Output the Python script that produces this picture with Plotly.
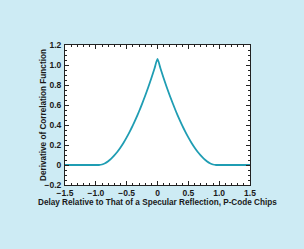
import plotly.graph_objects as go

# Data (delay in P-code chips vs. derivative of correlation)
delay = [-1.5, -1.4, -1.3, -1.2, -1.1, -1.0, -0.95, -0.9, -0.85, -0.8, -0.75, -0.7,
         -0.65, -0.6, -0.55, -0.5, -0.45, -0.4, -0.35, -0.3, -0.25, -0.2, -0.15,
         -0.1, -0.05, 0.0, 0.05, 0.1, 0.15, 0.2, 0.25, 0.3, 0.35, 0.4, 0.45, 0.5,
         0.55, 0.6, 0.65, 0.7, 0.75, 0.8, 0.85, 0.9, 0.95, 1.0, 1.1, 1.2, 1.3, 1.4, 1.5]
deriv = [0, 0, 0, 0, 0, 0, 0, 0.005, 0.018, 0.038, 0.064, 0.096,
         0.133, 0.176, 0.223, 0.276, 0.334, 0.396, 0.464, 0.535, 0.612, 0.693, 0.778,
         0.868, 0.962, 1.06, 0.962, 0.868, 0.778, 0.693, 0.612, 0.535, 0.464, 0.396, 0.334, 0.276,
         0.223, 0.176, 0.133, 0.096, 0.064, 0.038, 0.018, 0.005, 0, 0, 0, 0, 0, 0, 0]

x_ticks = [-1.5, -1.0, -0.5, 0, 0.5, 1.0, 1.5]
x_tick_labels = ["\u22121.5", "\u22121.0", "\u22120.5", "0", "0.5", "1.0", "1.5"]
y_ticks = [-0.2, 0, 0.2, 0.4, 0.6, 0.8, 1.0, 1.2]
y_tick_labels = ["\u22120.2", "0", "0.2", "0.4", "0.6", "0.8", "1.0", "1.2"]

x_title = "Delay Relative to That of a Specular Reflection, P-Code Chips"
y_title = "Derivative of Correlation Function"

FONT = "Liberation Sans"
tick_font = dict(family=FONT, size=8.5, color="#1a1a1a", weight="bold")
title_font = dict(family=FONT, size=8.2, color="#1a1a1a", weight="bold")

fig = go.Figure(go.Scatter(x=delay, y=deriv, mode="lines",
                           line=dict(color="#1f9db3", width=1.8, shape="spline", smoothing=0.6),
                           hoverinfo="skip"))

axis_common = dict(showgrid=False, zeroline=False, showline=True, linecolor="#222",
                   linewidth=1, mirror="ticks", ticks="inside", ticklen=4,
                   tickcolor="#222", tickfont=tick_font)

fig.update_xaxes(range=[-1.5, 1.5], tickvals=x_ticks, ticktext=x_tick_labels,
                 minor=dict(dtick=0.1, ticks="inside", ticklen=2, tickcolor="#222"),
                 ticklabelstandoff=0, **axis_common)
fig.update_yaxes(range=[-0.2, 1.2], tickvals=y_ticks, ticktext=y_tick_labels,
                 minor=dict(dtick=0.05, ticks="inside", ticklen=2, tickcolor="#222"),
                 ticklabelstandoff=1, **axis_common)

L, R, T, B = 65, 54, 45, 64
PW, PH = 304 - L - R, 249 - T - B

fig.add_annotation(text=y_title, textangle=-90, font=title_font, showarrow=False,
                   xref="paper", yref="paper", x=(43 - L) / PW, y=0.5,
                   xanchor="center", yanchor="middle")
fig.add_annotation(text=x_title, font=title_font, showarrow=False,
                   xref="paper", yref="paper", x=(157 - L) / PW, y=-(202 - (T + PH)) / PH,
                   xanchor="center", yanchor="middle")

fig.update_layout(width=304, height=249, margin=dict(l=L, r=R, t=T, b=B),
                  paper_bgcolor="#cdebf4", plot_bgcolor="#ffffff", showlegend=False)

fig.write_html("out.html", config={"displayModeBar": False})
